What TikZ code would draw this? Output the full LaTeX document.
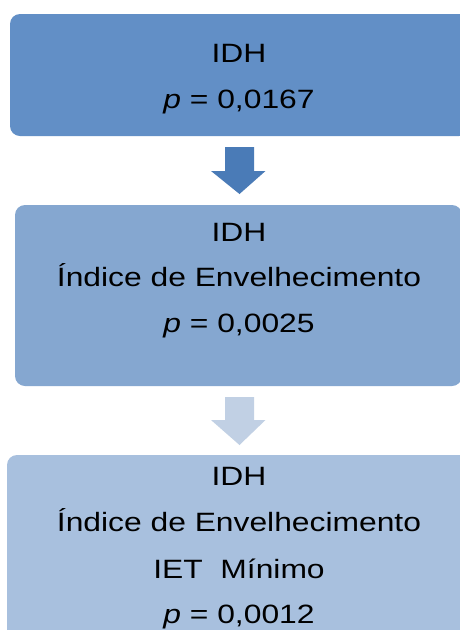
\documentclass[tikz,border=0pt]{standalone}
\usepackage{fontspec}
\setmainfont{Liberation Sans}[FakeStretch=1.2]
\definecolor{boxA}{HTML}{628FC6}
\definecolor{boxB}{HTML}{85A7D0}
\definecolor{boxC}{HTML}{A8C0DE}
\definecolor{arrA}{HTML}{4A7BB7}
\definecolor{arrB}{HTML}{C1D0E4}
\tikzset{
  box/.style={rectangle, rounded corners=10pt, inner sep=0pt, draw=none},
  txt/.style={anchor=base, inner sep=0pt, text=black, font=\fontsize{26.5pt}{30pt}\selectfont},
}
\begin{document}
\begin{tikzpicture}[x=1pt, y=-1pt]
\path[use as bounding box, fill=white] (0,0) rectangle (460,630);
\clip (0,0) rectangle (460,630);
% boxes
\node[box, fill=boxA, minimum width=459pt, minimum height=122pt] (b1) at (239.5,75) {};
\node[box, fill=boxB, minimum width=447pt, minimum height=181pt] (b2) at (238.5,295.5) {};
\node[box, fill=boxC, minimum width=465pt, minimum height=195pt] (b3) at (239.5,552.5) {};
% arrows
\coordinate (a1) at (239.5,147);
\coordinate (a2) at (239.5,397);
\fill[arrA] ([xshift=-14.5pt]a1) -- ++(29,0) -- ++(0,24) -- ++(11.5,0) -- ([yshift=-47pt]a1) -- ([shift={(-28.5pt,-24pt)}]a1) -- ++(14,0) -- cycle;
\fill[arrB] ([xshift=-14.5pt]a2) -- ++(29,0) -- ++(0,23) -- ++(11.5,0) -- ([yshift=-48pt]a2) -- ([shift={(-28.5pt,-23pt)}]a2) -- ++(14,0) -- cycle;
% text box 1
\node[txt] (t11) at (239,62) {IDH};
\node[txt] (t12) at (239,108) {\textit{p} = 0,0167};
% text box 2
\node[txt] (t21) at (239,241) {IDH};
\node[txt] (t22) at (239,286) {Índice de Envelhecimento};
\node[txt] (t23) at (239,332) {\textit{p} = 0,0025};
% text box 3
\node[txt] (t31) at (239,485) {IDH};
\node[txt] (t32) at (239,531) {Índice de Envelhecimento};
\node[txt] (t33) at (239,578) {IET\ \ Mínimo};
\node[txt] (t34) at (239,623) {\textit{p} = 0,0012};
\end{tikzpicture}
\end{document}
